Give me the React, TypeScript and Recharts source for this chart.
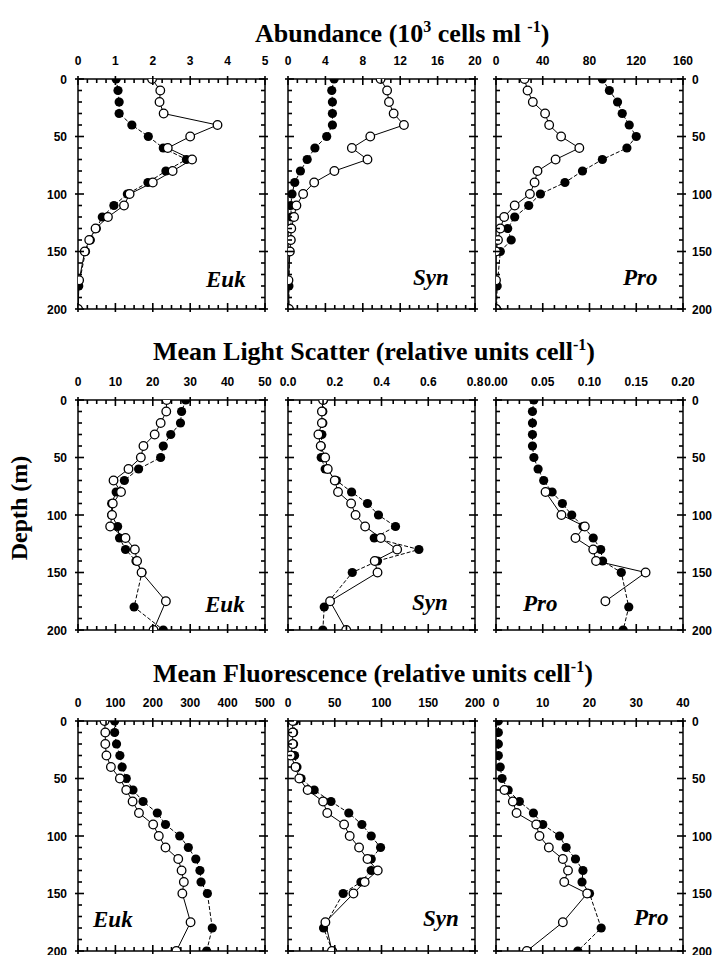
import React from "react";
import { ScatterChart, Scatter, XAxis, YAxis } from "recharts";

// sample depths (m)
const filledDepths = [0, 10, 20, 30, 40, 50, 60, 70, 80, 90, 100, 110, 120, 130, 140, 150, 180, 200];
const openDepths = [0, 10, 20, 30, 40, 50, 60, 70, 80, 90, 100, 110, 120, 130, 140, 150, 175, 200];
const proScatterOpenDepths = [80, 100, 110, 120, 130, 140, 150, 175];
const proFluorOpenDepths = [60, 70, 80, 90, 100, 110, 120, 130, 140, 150, 175, 200];

// abundance (10^3 cells/ml)
const eukAbundFilled = [1.02, 1.07, 1.1, 1.1, 1.44, 1.88, 2.28, 2.9, 2.35, 1.87, 1.32, 0.96, 0.65, 0.49, 0.33, 0.2, 0.02, 0];
const eukAbundOpen = [1.98, 2.2, 2.18, 2.29, 3.73, 3.0, 2.4, 3.05, 2.53, 2.0, 1.38, 1.23, 0.8, 0.47, 0.3, 0.18, 0.03, 0];
const synAbundFilled = [4.93, 4.68, 4.75, 4.75, 4.75, 4.14, 2.88, 2.05, 1.33, 0.72, 0.43, 0.29, 0.36, 0.29, 0.29, 0.18, 0.1, 0.1];
const synAbundOpen = [9.9, 10.6, 10.8, 11.3, 12.4, 8.8, 6.83, 8.5, 4.96, 2.8, 1.62, 0.9, 0.65, 0.35, 0.3, 0.2, 0.05, 0.1];
const proAbundFilled = [91, 97, 104, 108, 114, 120, 112, 91, 74, 59, 38, 28, 16, 10, 13, 3.7, 1, 0.5];
const proAbundOpen = [24.4, 27, 31.5, 42, 45.5, 55.7, 71.3, 51, 35.5, 33, 29, 16, 7, 3.7, 1.7, 0, 0, 0];

// mean light scatter
const eukScatterFilled = [28.8, 27.7, 27.4, 24.8, 22.8, 22.1, 16.2, 12.4, 10.2, 9.0, 9.0, 10.6, 11.1, 12.7, 15.5, 17.1, 15.0, 22.8];
const eukScatterOpen = [23.7, 23.6, 22.1, 20.5, 17.5, 16.8, 13.5, 9.5, 11.5, 9.3, 9.1, 8.6, 12.7, 15.2, 15.8, 17.0, 23.5, 20.2];
const synScatterFilled = [0.152, 0.149, 0.149, 0.145, 0.142, 0.142, 0.159, 0.207, 0.272, 0.34, 0.387, 0.46, 0.369, 0.56, 0.383, 0.275, 0.155, 0.149];
const synScatterOpen = [0.15, 0.145, 0.145, 0.13, 0.14, 0.159, 0.17, 0.2, 0.214, 0.27, 0.289, 0.33, 0.397, 0.467, 0.371, 0.383, 0.18, 0.249];
const proScatterFilled = [0.0405, 0.039, 0.039, 0.039, 0.039, 0.0405, 0.045, 0.051, 0.06, 0.071, 0.081, 0.093, 0.104, 0.112, 0.114, 0.134, 0.142, 0.136];
const proScatterOpen = [0.053, 0.07, 0.095, 0.085, 0.104, 0.107, 0.16, 0.117];

// mean fluorescence
const eukFluorFilled = [98, 98, 103, 112, 118, 129, 147, 174, 212, 234, 272, 295, 315, 326, 329, 346, 359, 344];
const eukFluorOpen = [71, 73, 73, 76, 88, 112, 129, 146, 163, 201, 216, 234, 268, 277, 283, 279, 301, 263];
const synFluorFilled = [7, 6, 6, 7, 9.6, 14, 28, 46, 65, 79, 89, 99, 89, 89, 78, 59, 38, 47.5];
const synFluorOpen = [5, 5, 5, 3, 8, 12, 21, 37.5, 42, 60, 66, 76, 85, 96, 82, 70, 40, 47];
const proFluorFilled = [0.5, 0.5, 0.5, 0.5, 0.9, 1.3, 2.6, 5, 8, 10, 13.6, 15, 17, 18.6, 18.4, 20, 22.5, 17.5];
const proFluorOpen = [1.8, 3.6, 4.4, 8.6, 9.3, 11.3, 14.3, 15.4, 14.6, 19.5, 14.3, 6.6];

// axis ticks
const depthMajor = [0, 50, 100, 150, 200];
const depthMinor = [0, 10, 20, 30, 40, 50, 60, 70, 80, 90, 100, 110, 120, 130, 140, 150, 160, 170, 180, 190, 200];
const eukAbundTicks = [0, 1, 2, 3, 4, 5];
const synAbundTicks = [0, 4, 8, 12, 16, 20];
const proAbundTicks = [0, 40, 80, 120, 160];
const eukScatterTicks = [0, 10, 20, 30, 40, 50];
const synScatterTicks = [0, 0.2, 0.4, 0.6, 0.8];
const proScatterTicks = [0, 0.05, 0.1, 0.15, 0.2];
const eukFluorTicks = [0, 100, 200, 300, 400, 500];
const synFluorTicks = [0, 50, 100, 150, 200];
const proFluorTicks = [0, 10, 20, 30, 40];

const COL_X = [78, 288, 496];
const ROW_Y = [79, 400, 721];
const PW = 187;
const PH = 230;

const pts = (vals: number[], depths: number[]) => vals.map((x, i) => ({ x, d: depths[i] }));
const subTicks = (major: number[]) => {
  const step = (major[1] - major[0]) / 4;
  const n = (major.length - 1) * 4;
  return Array.from({ length: n + 1 }, (_, i) => +(major[0] + i * step).toFixed(6));
};
const isIn = (list: number[], v: number) => list.some((m) => Math.abs(m - v) < 1e-9);

const FilledDot = (p: any) => <circle cx={p.cx} cy={p.cy} r={4.6} fill="#000" />;
const OpenDot = (p: any) => <circle cx={p.cx} cy={p.cy} r={4.3} fill="#fff" stroke="#000" strokeWidth={1.3} />;

const fontTick: React.CSSProperties = { fill: "#000", fontSize: 12, fontWeight: 700, fontFamily: "Liberation Sans, Arial, sans-serif" };
const frame = { stroke: "#000", strokeWidth: 1.5 };
const TK = { stroke: "#000", strokeWidth: 1.6 };

// tick renderers: minor ticks 4px inward, major ticks 6px inward + 3px outward
const TopTick = (majors: number[], fmt: (v: number) => string) => (p: any) => {
  const v = p.payload.value;
  const mj = isIn(majors, v);
  return (
    <g>
      <line x1={p.x} x2={p.x} y1={p.y - (mj ? 3 : 0)} y2={p.y + (mj ? 6 : 4)} {...TK} />
      {mj && <text x={p.x} y={p.y - 14} textAnchor="middle" style={fontTick}>{fmt(v)}</text>}
    </g>
  );
};
const BottomTick = (majors: number[]) => (p: any) => {
  const mj = isIn(majors, p.payload.value);
  return <line x1={p.x} x2={p.x} y1={p.y + (mj ? 3 : 0)} y2={p.y - (mj ? 6 : 4)} {...TK} />;
};
const SideTick = (side: "left" | "right", labels: boolean) => (p: any) => {
  const v = p.payload.value;
  const mj = isIn(depthMajor, v);
  const s = side === "left" ? 1 : -1;
  return (
    <g>
      <line y1={p.y} y2={p.y} x1={p.x - s * (mj ? 3 : 0)} x2={p.x + s * (mj ? 6 : 4)} {...TK} />
      {labels && mj && (
        <text x={p.x - s * (side === "left" ? 11 : 9)} y={p.y + 4.5} textAnchor={side === "left" ? "end" : "start"} style={fontTick}>
          {v}
        </text>
      )}
    </g>
  );
};

type PanelProps = {
  row: number;
  col: number;
  ticks: number[];
  fmt?: (v: number) => string;
  filled: { x: number; d: number }[];
  open: { x: number; d: number }[];
};

function Panel({ row, col, ticks, fmt, filled, open }: PanelProps) {
  const padL = col === 0 ? 60 : 14;
  const padR = col === 2 ? 31 : 14;
  const padT = 30;
  const padB = 10;
  const domain: [number, number] = [ticks[0], ticks[ticks.length - 1]];
  const minor = subTicks(ticks);
  const f = fmt ?? ((v: number) => String(v));
  const xc = { type: "number" as const, dataKey: "x", domain, allowDataOverflow: true, ticks: minor, interval: 0 as const, tickSize: 0, tickMargin: 0, tickLine: false, axisLine: frame, stroke: "#000" };
  const yc = { type: "number" as const, dataKey: "d", domain: [0, 200] as [number, number], reversed: true, allowDataOverflow: true, ticks: depthMinor, interval: 0 as const, tickSize: 0, tickMargin: 0, tickLine: false, axisLine: frame, stroke: "#000" };
  return (
    <div style={{ position: "absolute", left: COL_X[col] - padL, top: ROW_Y[row] - padT }}>
      <ScatterChart width={PW + padL + padR} height={PH + padT + padB} margin={{ top: 0, bottom: 0, left: 0, right: 0 }}>
        <XAxis xAxisId="t" orientation="top" height={padT} {...xc} tick={TopTick(ticks, f)} />
        <XAxis xAxisId="b" orientation="bottom" height={padB} {...xc} tick={BottomTick(ticks)} />
        <YAxis yAxisId="l" orientation="left" width={padL} {...yc} tick={SideTick("left", col === 0)} />
        <YAxis yAxisId="r" orientation="right" width={padR} {...yc} tick={SideTick("right", col === 2)} />
        <Scatter xAxisId="t" yAxisId="l" data={filled} fill="#000" shape={FilledDot}
          line={{ stroke: "#000", strokeWidth: 1, strokeDasharray: "4 2" }} isAnimationActive={false} />
        <Scatter xAxisId="b" yAxisId="r" data={open} fill="#fff" shape={OpenDot}
          line={{ stroke: "#000", strokeWidth: 1 }} isAnimationActive={false} />
      </ScatterChart>
    </div>
  );
}

const titleStyle: React.CSSProperties = { fontFamily: "Liberation Serif, serif", fontWeight: 700, fontSize: 26 };
const nameStyle: React.CSSProperties = { fontFamily: "Liberation Serif, serif", fontWeight: 700, fontStyle: "italic", fontSize: 23 };

const names = [
  { t: "Euk", x: 206, y: 287 }, { t: "Syn", x: 413, y: 285 }, { t: "Pro", x: 623, y: 285 },
  { t: "Euk", x: 205, y: 612 }, { t: "Syn", x: 412, y: 610 }, { t: "Pro", x: 523, y: 611 },
  { t: "Euk", x: 93, y: 927 }, { t: "Syn", x: 423, y: 926 }, { t: "Pro", x: 634, y: 925 },
];

export default function App() {
  return (
    <div style={{ position: "absolute", left: 0, top: 0, width: 714, height: 955, background: "#fff", overflow: "hidden" }}>
      <Panel row={0} col={0} ticks={eukAbundTicks} filled={pts(eukAbundFilled, filledDepths)} open={pts(eukAbundOpen, openDepths)} />
      <Panel row={0} col={1} ticks={synAbundTicks} filled={pts(synAbundFilled, filledDepths)} open={pts(synAbundOpen, openDepths)} />
      <Panel row={0} col={2} ticks={proAbundTicks} filled={pts(proAbundFilled, filledDepths)} open={pts(proAbundOpen, openDepths)} />
      <Panel row={1} col={0} ticks={eukScatterTicks} filled={pts(eukScatterFilled, filledDepths)} open={pts(eukScatterOpen, openDepths)} />
      <Panel row={1} col={1} ticks={synScatterTicks} fmt={(v) => v.toFixed(1)} filled={pts(synScatterFilled, filledDepths)} open={pts(synScatterOpen, openDepths)} />
      <Panel row={1} col={2} ticks={proScatterTicks} fmt={(v) => v.toFixed(2)} filled={pts(proScatterFilled, filledDepths)} open={pts(proScatterOpen, proScatterOpenDepths)} />
      <Panel row={2} col={0} ticks={eukFluorTicks} filled={pts(eukFluorFilled, filledDepths)} open={pts(eukFluorOpen, openDepths)} />
      <Panel row={2} col={1} ticks={synFluorTicks} filled={pts(synFluorFilled, filledDepths)} open={pts(synFluorOpen, openDepths)} />
      <Panel row={2} col={2} ticks={proFluorTicks} filled={pts(proFluorFilled, filledDepths)} open={pts(proFluorOpen, proFluorOpenDepths)} />
      <svg width={714} height={955} style={{ position: "absolute", left: 0, top: 0, pointerEvents: "none" }}>
        <text x={255} y={42} style={titleStyle}>
          Abundance (10<tspan dy={-10} fontSize={16}>3</tspan>
          <tspan dy={10}> cells ml </tspan>
          <tspan dy={-10} fontSize={16}>-1</tspan>
          <tspan dy={10}>)</tspan>
        </text>
        <text x={153} y={360} style={titleStyle}>
          Mean Light Scatter (relative units cell<tspan dy={-10} fontSize={16}>-1</tspan>
          <tspan dy={10}>)</tspan>
        </text>
        <text x={153} y={682} style={titleStyle}>
          Mean Fluorescence (relative units cell<tspan dy={-10} fontSize={16}>-1</tspan>
          <tspan dy={10}>)</tspan>
        </text>
        <text x={27} y={508} textAnchor="middle" transform="rotate(-90 27 508)" style={{ ...titleStyle, fontSize: 24 }}>
          Depth (m)
        </text>
        {names.map((n, i) => (
          <text key={i} x={n.x} y={n.y} style={nameStyle}>{n.t}</text>
        ))}
      </svg>
    </div>
  );
}
